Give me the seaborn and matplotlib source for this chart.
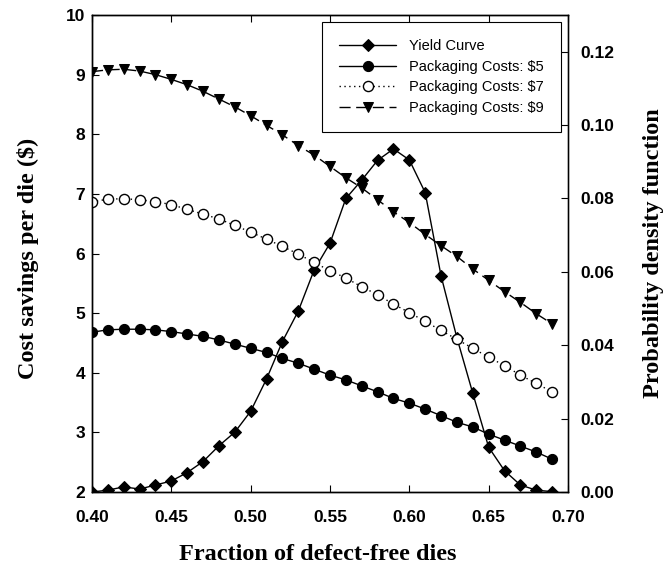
import matplotlib
matplotlib.use("Agg")
import matplotlib.pyplot as plt
import seaborn as sns

sns.set_style("ticks")
plt.rcParams.update({"text.color": "black", "axes.labelcolor": "black",
                     "xtick.color": "black", "ytick.color": "black"})

fraction = [0.40, 0.41, 0.42, 0.43, 0.44, 0.45, 0.46, 0.47, 0.48, 0.49,
            0.50, 0.51, 0.52, 0.53, 0.54, 0.55, 0.56, 0.57, 0.58, 0.59,
            0.60, 0.61, 0.62, 0.63, 0.64, 0.65, 0.66, 0.67, 0.68, 0.69]

yield_pdf = [0.0000, 0.0005, 0.0014, 0.0008, 0.0019, 0.0030, 0.0053, 0.0083, 0.0126, 0.0163,
             0.0220, 0.0308, 0.0410, 0.0493, 0.0605, 0.0678, 0.0800, 0.0850, 0.0904, 0.0935,
             0.0905, 0.0816, 0.0589, 0.0420, 0.0269, 0.0122, 0.0058, 0.0019, 0.0005, 0.0001]

cost5 = [4.68, 4.72, 4.73, 4.73, 4.72, 4.69, 4.65, 4.61, 4.55, 4.48,
         4.41, 4.34, 4.24, 4.16, 4.06, 3.96, 3.88, 3.78, 3.68, 3.57,
         3.49, 3.39, 3.28, 3.17, 3.09, 2.97, 2.87, 2.77, 2.67, 2.55]

cost7 = [6.87, 6.91, 6.92, 6.90, 6.87, 6.82, 6.74, 6.66, 6.58, 6.47,
         6.36, 6.24, 6.12, 5.99, 5.85, 5.71, 5.59, 5.44, 5.31, 5.15,
         5.01, 4.86, 4.71, 4.56, 4.41, 4.26, 4.12, 3.96, 3.82, 3.68]

cost9 = [9.05, 9.08, 9.09, 9.06, 9.00, 8.92, 8.83, 8.72, 8.59, 8.46,
         8.31, 8.15, 7.99, 7.81, 7.65, 7.46, 7.27, 7.10, 6.90, 6.70,
         6.52, 6.32, 6.13, 5.95, 5.74, 5.55, 5.36, 5.18, 4.99, 4.82]

x_ticks = [0.40, 0.45, 0.50, 0.55, 0.60, 0.65, 0.70]
left_ticks = [2, 3, 4, 5, 6, 7, 8, 9, 10]
right_ticks = [0.00, 0.02, 0.04, 0.06, 0.08, 0.10, 0.12]

series_labels = ["Yield Curve", "Packaging Costs: $5", "Packaging Costs: $7", "Packaging Costs: $9"]

fig = plt.figure(figsize=(6.66, 5.76), dpi=100)
ax = fig.add_axes([92/666, 84/576, 476/666, 477/576])
ax2 = ax.twinx()

tick_font = dict(family="Liberation Sans", weight="bold", size=12.5)
label_font = dict(family="Liberation Serif", weight="bold", size=17.5)

sns.lineplot(x=fraction, y=yield_pdf, ax=ax2, color="black", lw=1.0,
             marker="D", markersize=6.2, markeredgecolor="black",
             markerfacecolor="black", label=series_labels[0], legend=False)

sns.lineplot(x=fraction, y=cost5, ax=ax, color="black", lw=1.0,
             marker="o", markersize=7.3, markeredgecolor="black",
             markerfacecolor="black", label=series_labels[1], legend=False)
sns.lineplot(x=fraction, y=cost7, ax=ax, color="black", lw=1.0,
             marker="o", markersize=7.3, markeredgecolor="black", markeredgewidth=1.0,
             markerfacecolor="white", label=series_labels[2], legend=False)
ax.lines[-1].set_linestyle((0, (1, 2.5)))
sns.lineplot(x=fraction, y=cost9, ax=ax, color="black", lw=1.0,
             marker="v", markersize=7.3, markeredgecolor="black",
             markerfacecolor="black", label=series_labels[3], legend=False)
ax.lines[-1].set_linestyle((0, (8, 4)))

ax.set_zorder(ax2.get_zorder() + 1)
ax.patch.set_visible(False)

ax.set_xlim(0.40, 0.70)
ax.set_ylim(2, 10)
ax2.set_ylim(0, 0.13)

ax.set_xticks(x_ticks)
ax.set_xticklabels([f"{t:.2f}" for t in x_ticks], **tick_font)
ax.set_yticks(left_ticks)
ax.set_yticklabels([str(t) for t in left_ticks], **tick_font)
ax2.set_yticks(right_ticks)
ax2.set_yticklabels([f"{t:.2f}" for t in right_ticks], **tick_font)

ax.tick_params(axis="x", direction="in", top=True, length=5, width=0.8, pad=13)
ax.tick_params(axis="y", direction="in", length=5, width=0.8, pad=5)
ax2.tick_params(axis="y", direction="in", length=5, width=0.8, pad=9)

for a in (ax, ax2):
    for s in a.spines.values():
        s.set_visible(True)
        s.set_linewidth(1.0)
        s.set_color("black")
ax2.spines["right"].set_color("#555555")

ax.set_xlabel("Fraction of defect-free dies", **label_font)
ax.set_ylabel("Cost savings per die ($)", **label_font)
ax2.set_ylabel("Probability density function", **label_font)
ax.xaxis.set_label_coords(0.475, -0.108)
ax.yaxis.set_label_coords(-0.112, 0.49)
ax2.yaxis.set_label_coords(1.158, 0.5)

handles = ax2.get_lines()[:1] + ax.get_lines()[:3]
leg = ax.legend(handles, series_labels, loc="upper right",
                frameon=True, fancybox=False, edgecolor="black", framealpha=1,
                prop=dict(family="Liberation Sans", size=10.5), handlelength=3.9,
                borderpad=1.15, labelspacing=0.45, handletextpad=0.9,
                borderaxespad=0.5)
leg.get_frame().set_linewidth(0.8)

fig.savefig("out.png", dpi=100)
